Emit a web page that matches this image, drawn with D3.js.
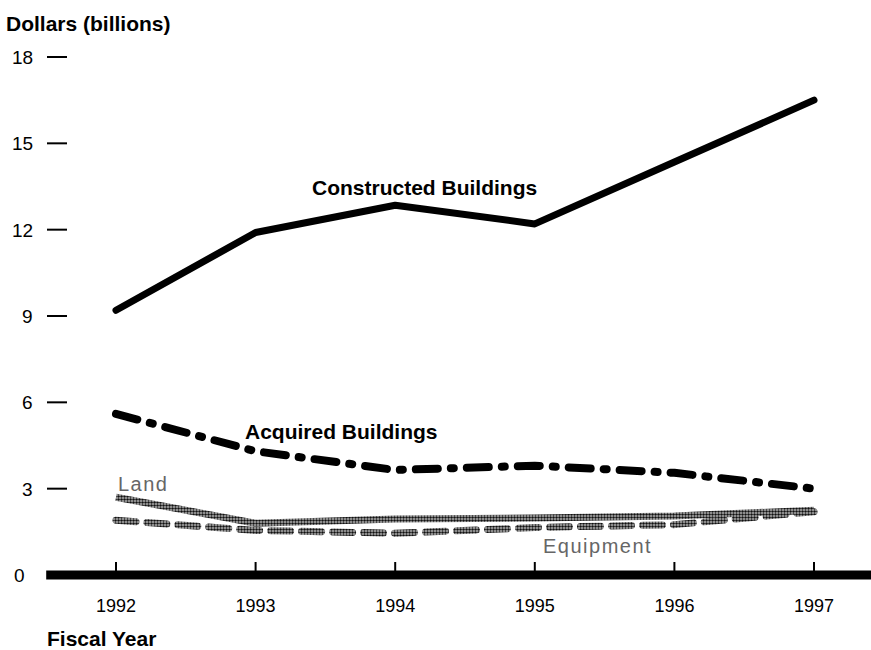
<!DOCTYPE html>
<html>
<head>
<meta charset="utf-8">
<script src="https://cdn.jsdelivr.net/npm/d3@7"></script>
<style>
  body { margin: 0; background: #fff; }
  text { font-family: "Liberation Sans", Arial, sans-serif; }
</style>
</head>
<body>
<div class="chart"></div>
<script>
// data
const years = [1992, 1993, 1994, 1995, 1996, 1997];
const constructed = [9.2, 11.9, 12.85, 12.2, 14.35, 16.5];
const acquired = [5.6, 4.3, 3.65, 3.8, 3.55, 3.0];
const land = [2.7, 1.8, 1.95, 1.98, 2.05, 2.25];
const equipment = [1.9, 1.55, 1.45, 1.65, 1.75, 2.2];
const yTicks = [0, 3, 6, 9, 12, 15, 18];

const width = 871;
const height = 650;

const svg = d3
  .select('.chart')
  .append('svg')
  .attr('width', width)
  .attr('height', height);

// halftone pattern for the grey lines
const defs = svg.append('defs');
const pat = defs
  .append('pattern')
  .attr('id', 'halftone')
  .attr('patternUnits', 'userSpaceOnUse')
  .attr('width', 3)
  .attr('height', 3);
pat.append('rect').attr('width', 3).attr('height', 3).attr('fill', '#bdbdbd');
pat.append('circle').attr('cx', 1.5).attr('cy', 1.5).attr('r', 1.25).attr('fill', '#111');

const xScale = d3.scaleLinear().domain([1992, 1997]).range([116, 814]);
const yScale = d3.scaleLinear().domain([0, 18]).range([575, 57]);

// y axis title
svg.append('text')
  .attr('x', 6)
  .attr('y', 31)
  .attr('font-size', 21)
  .attr('font-weight', 'bold')
  .text('Dollars (billions)');

// y ticks: label plus a short dash
const yTickG = svg.selectAll('.ytick')
  .data(yTicks)
  .join('g')
  .attr('class', 'ytick')
  .attr('transform', (d) => 'translate(0,' + yScale(d) + ')');

yTickG.append('text')
  .attr('x', (d) => (d >= 10 ? 12 : d === 0 ? 14 : 22))
  .attr('dy', '0.36em')
  .attr('font-size', 19)
  .text((d) => d);

yTickG.filter((d) => d > 0)
  .append('line')
  .attr('x1', 47)
  .attr('x2', 67)
  .attr('stroke', '#000')
  .attr('stroke-width', 2);

// x axis: thick bar with small upward ticks
svg.append('line')
  .attr('x1', xScale(1991.5))
  .attr('x2', width)
  .attr('y1', yScale(0))
  .attr('y2', yScale(0))
  .attr('stroke', '#000')
  .attr('stroke-width', 9);

svg.selectAll('.xtick')
  .data(years)
  .join('line')
  .attr('class', 'xtick')
  .attr('x1', (d) => xScale(d))
  .attr('x2', (d) => xScale(d))
  .attr('y1', yScale(0) - 13)
  .attr('y2', yScale(0))
  .attr('stroke', '#000')
  .attr('stroke-width', 2);

svg.selectAll('.xlabel')
  .data(years)
  .join('text')
  .attr('class', 'xlabel')
  .attr('x', (d) => xScale(d))
  .attr('y', 612)
  .attr('text-anchor', 'middle')
  .attr('font-size', 18)
  .text((d) => d);

svg.append('text')
  .attr('x', 47)
  .attr('y', 646)
  .attr('font-size', 21)
  .attr('font-weight', 'bold')
  .text('Fiscal Year');

// lines
const line = d3
  .line()
  .x((d, i) => xScale(years[i]))
  .y((d) => yScale(d));

const series = [
  { values: land, stroke: 'url(#halftone)', width: 7, dash: null, cap: 'butt' },
  { values: equipment, stroke: 'url(#halftone)', width: 7, dash: '20,11', cap: 'round' },
  { values: acquired, stroke: '#000', width: 8, dash: '22,13,3,13', cap: 'round' },
  { values: constructed, stroke: '#000', width: 7, dash: null, cap: 'round' },
];

svg.selectAll('.series')
  .data(series)
  .join('path')
  .attr('class', 'series')
  .attr('d', (d) => line(d.values))
  .attr('fill', 'none')
  .attr('stroke', (d) => d.stroke)
  .attr('stroke-width', (d) => d.width)
  .attr('stroke-dasharray', (d) => d.dash)
  .attr('stroke-linecap', (d) => d.cap)
  .attr('stroke-linejoin', 'round');

// series labels
svg.append('text')
  .attr('x', 312)
  .attr('y', 195)
  .attr('font-size', 21)
  .attr('font-weight', 'bold')
  .text('Constructed Buildings');

svg.append('text')
  .attr('x', 245)
  .attr('y', 439)
  .attr('font-size', 21)
  .attr('font-weight', 'bold')
  .text('Acquired Buildings');

svg.append('text')
  .attr('x', 118)
  .attr('y', 491)
  .attr('font-size', 20)
  .attr('letter-spacing', 1.5)
  .attr('fill', '#666')
  .text('Land');

svg.append('text')
  .attr('x', 543)
  .attr('y', 553)
  .attr('font-size', 20)
  .attr('letter-spacing', 1.5)
  .attr('fill', '#666')
  .text('Equipment');
</script>
</body>
</html>
